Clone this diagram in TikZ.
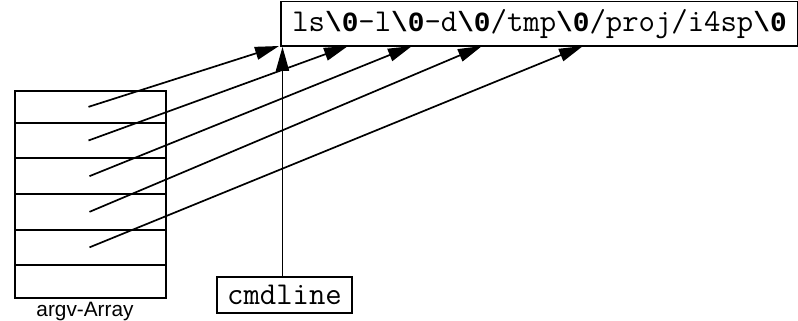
\documentclass[tikz,border=0pt]{standalone}
\usepackage{fontspec}
\setmainfont{Liberation Sans}
\newfontfamily\nulfont{Liberation Mono}
\usetikzlibrary{arrows.meta}
\newcommand{\nul}{{\nulfont\bfseries\fontsize{27.8}{30}\selectfont\textbackslash0}}
\begin{document}
\begin{tikzpicture}[x=1pt,y=-1pt, line width=1.7pt,
  box/.style={draw, inner sep=0pt, font=\ttfamily\fontsize{31.8}{34}\selectfont},
  cell/.style={draw, minimum width=151pt, inner sep=0pt, outer sep=0pt},
  ptr/.style={-{Triangle[length=24pt,width=13pt]}}]
\useasboundingbox (0,0) rectangle (798,321);
% string box
\node[box, minimum width=517pt, minimum height=44.5pt] (str) at (539.5,23.75)
  {ls\nul-l\nul-d\nul/tmp\nul/proj/i4sp\nul};
% argv array
\node[cell, minimum height=31.7pt] (r1) at (90.5,106.85) {};
\node[cell, minimum height=35.6pt] (r2) at (90.5,140.5) {};
\node[cell, minimum height=35.7pt] (r3) at (90.5,176.15) {};
\node[cell, minimum height=35.7pt] (r4) at (90.5,211.85) {};
\node[cell, minimum height=35.3pt] (r5) at (90.5,247.35) {};
\node[cell, minimum height=33.3pt] (r6) at (90.5,281.65) {};
\node[anchor=base, font=\fontsize{20.8}{23}\selectfont, inner sep=0pt] (lbl) at (85,316) {argv-Array};
% cmdline box
\node[box, minimum width=135pt, minimum height=36pt] (cmd) at (284.5,295) {cmdline};
% targets on the string
\coordinate (t1) at (279,46);
\coordinate (t2) at (348,46);
\coordinate (t3) at (412,46);
\coordinate (t4) at (482,46);
\coordinate (t5) at (583,46);
\draw[ptr] ([xshift=-2pt]r1.center) -- (t1);
\draw[ptr] ([xshift=-2pt]r2.center) -- (t2);
\draw[ptr] ([xshift=-1pt]r3.center) -- (t3);
\draw[ptr] ([xshift=-1pt]r4.center) -- (t4);
\draw[ptr] ([xshift=-1pt]r5.center) -- (t5);
\draw[ptr] ([xshift=-2pt]cmd.north) -- ([xshift=-2pt]cmd.north |- str.south);
\end{tikzpicture}
\end{document}
